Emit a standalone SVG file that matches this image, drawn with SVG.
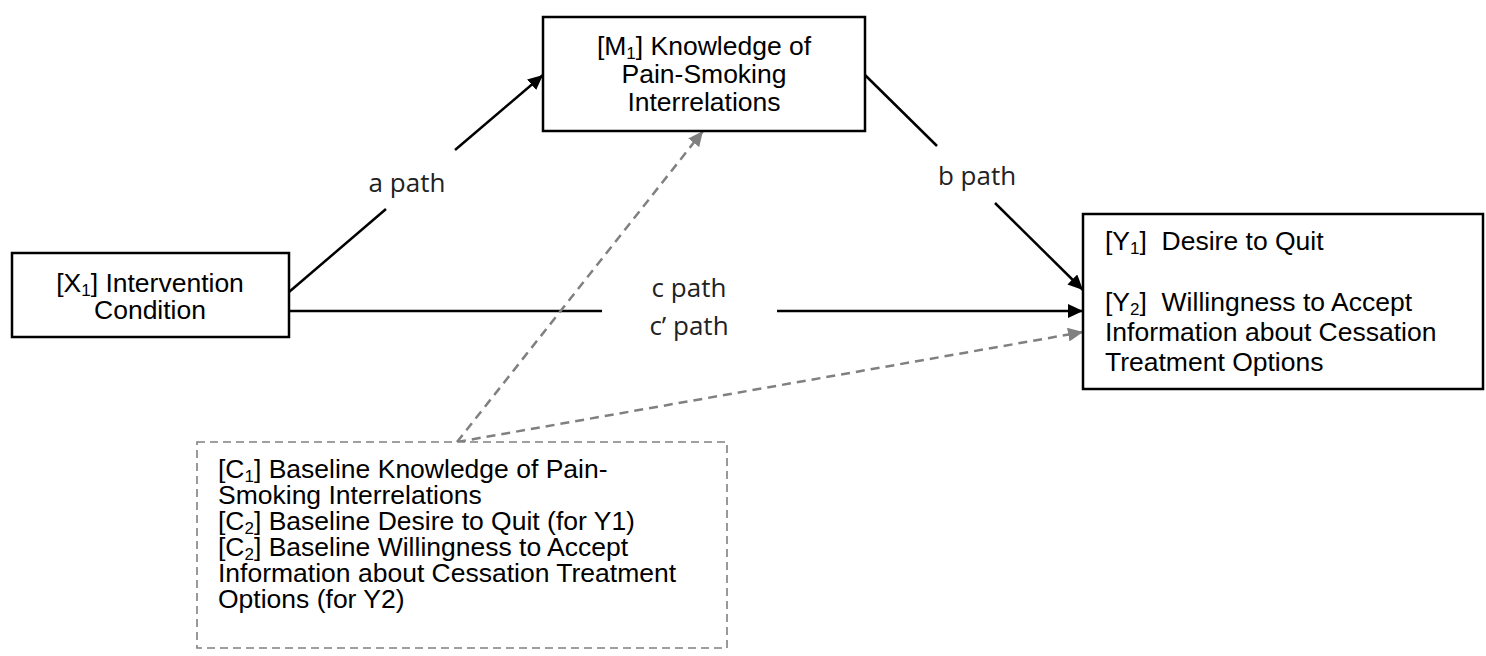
<svg xmlns="http://www.w3.org/2000/svg" width="1486" height="656" viewBox="0 0 1486 656">
<style>
.box{fill:#fff;stroke:#000;stroke-width:2.5}
.cbox{fill:#fff;stroke:#808080;stroke-width:1.6;stroke-dasharray:8 5}
.t{font-family:"Liberation Sans",Arial,sans-serif;font-size:26.5px;fill:#000}
.lab{font-family:"Open Sans","Noto Sans",sans-serif;font-size:26px;fill:#222}
.ln{stroke:#000;stroke-width:2.5;fill:none}
.dl{stroke:#808080;stroke-width:2.5;fill:none;stroke-dasharray:9 6}
.sub{font-size:17px}
</style>
<defs>
<marker id="ah" markerUnits="userSpaceOnUse" markerWidth="16" markerHeight="14" refX="15" refY="7" orient="auto">
<path d="M0,0 L15,7 L0,14 z" fill="#000"/>
</marker>
<marker id="ahg" markerUnits="userSpaceOnUse" markerWidth="16" markerHeight="14" refX="15" refY="7" orient="auto">
<path d="M0,0 L15,7 L0,14 z" fill="#808080"/>
</marker>
</defs>
<rect width="1486" height="656" fill="#fff"/>
<g id="connectors">
<line class="ln" x1="289" y1="292" x2="386" y2="209"/>
<line class="ln" x1="455" y1="150" x2="543" y2="75" marker-end="url(#ah)"/>
<line class="ln" x1="865" y1="75" x2="937" y2="146"/>
<line class="ln" x1="995" y1="203" x2="1083" y2="290" marker-end="url(#ah)"/>
<line class="ln" x1="289" y1="311" x2="602" y2="311"/>
<line class="ln" x1="777" y1="311" x2="1083" y2="311" marker-end="url(#ah)"/>
<line class="dl" x1="457" y1="442" x2="703" y2="131" marker-end="url(#ahg)"/>
<line class="dl" x1="457" y1="442" x2="1083" y2="332" marker-end="url(#ahg)"/>
<text class="lab" x="407" y="192" text-anchor="middle">a path</text>
<text class="lab" x="977" y="185" text-anchor="middle">b path</text>
<text class="lab" x="689" y="297" text-anchor="middle">c path</text>
<text class="lab" x="689" y="335" text-anchor="middle">c’ path</text>
</g>
<g id="M1">
<rect class="box" x="543" y="17" width="322" height="114"/>
<text class="t" x="704" y="55" text-anchor="middle">[M<tspan class="sub" dy="4">1</tspan><tspan dy="-4">] Knowledge of</tspan></text>
<text class="t" x="704" y="83" text-anchor="middle">Pain-Smoking</text>
<text class="t" x="704" y="111" text-anchor="middle">Interrelations</text>
</g>
<g id="X1">
<rect class="box" x="12" y="253" width="277" height="84"/>
<text class="t" x="150" y="292" text-anchor="middle">[X<tspan class="sub" dy="4">1</tspan><tspan dy="-4">] Intervention</tspan></text>
<text class="t" x="150" y="319" text-anchor="middle">Condition</text>
</g>
<g id="Y">
<rect class="box" x="1083" y="214" width="400" height="175"/>
<text class="t" x="1105" y="250" xml:space="preserve">[Y<tspan class="sub" dy="4">1</tspan><tspan dy="-4">]  Desire to Quit</tspan></text>
<text class="t" x="1105" y="311" xml:space="preserve">[Y<tspan class="sub" dy="4">2</tspan><tspan dy="-4">]  Willingness to Accept</tspan></text>
<text class="t" x="1105" y="341">Information about Cessation</text>
<text class="t" x="1105" y="371">Treatment Options</text>
</g>
<g id="C">
<rect class="cbox" x="197" y="442" width="530" height="206"/>
<text class="t" x="218" y="478">[C<tspan class="sub" dy="4">1</tspan><tspan dy="-4">] Baseline Knowledge of Pain-</tspan></text>
<text class="t" x="218" y="504">Smoking Interrelations</text>
<text class="t" x="218" y="530">[C<tspan class="sub" dy="4">2</tspan><tspan dy="-4">] Baseline Desire to Quit (for Y1)</tspan></text>
<text class="t" x="218" y="556">[C<tspan class="sub" dy="4">2</tspan><tspan dy="-4">] Baseline Willingness to Accept</tspan></text>
<text class="t" x="218" y="582">Information about Cessation Treatment</text>
<text class="t" x="218" y="608">Options (for Y2)</text>
</g>
</svg>
